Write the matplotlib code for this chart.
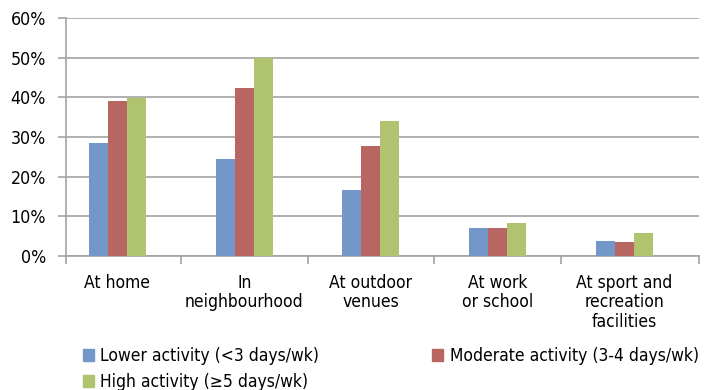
import matplotlib
matplotlib.use("Agg")
import matplotlib.pyplot as plt
import numpy as np
from matplotlib.patches import Patch

plt.rcParams["font.family"] = ["DejaVu Sans"]
plt.rcParams["font.stretch"] = "condensed"

categories = ["At home", "In\nneighbourhood", "At outdoor\nvenues", "At work\nor school",
              "At sport and\nrecreation\nfacilities"]
series_names = ["Lower activity (<3 days/wk)", "Moderate activity (3-4 days/wk)",
                "High activity (\u22655 days/wk)"]
lower = [28.5, 24.4, 16.6, 7.1, 3.8]
moderate = [39.1, 42.3, 27.7, 7.1, 3.5]
high = [39.9, 50.0, 34.0, 8.3, 5.8]
y_ticks = [0, 10, 20, 30, 40, 50, 60]
y_tick_labels = ["0%", "10%", "20%", "30%", "40%", "50%", "60%"]

colors = ["#7397C9", "#B86662", "#B0C36F"]
grid_col = "#A3A3A3"
fs = 12.5

fig = plt.figure(figsize=(7.13, 3.90), dpi=100)
ax = fig.add_axes([66 / 713, 134 / 390, 633 / 713, 238 / 390])

x = np.arange(len(categories))
w = 0.15
for i, vals in enumerate([lower, moderate, high]):
    ax.bar(x + (i - 1) * w, vals, width=w, color=colors[i], zorder=3)

x_left, x_right = -0.406, len(categories) - 0.412
ax.set_xlim(x_left, x_right)
ax.set_ylim(0, 60)
ax.set_yticks(y_ticks)
ax.set_yticklabels(y_tick_labels, fontsize=12.8)
ax.yaxis.grid(True, color=grid_col, linewidth=1.2, zorder=0)
ax.set_axisbelow(True)

ax.set_xticks(x)
ax.set_xticklabels(categories, fontsize=fs, linespacing=1.1, va="top")
ax.tick_params(axis="x", which="major", length=0, pad=13)
ax.set_xticks([x_left] + list(x[:-1] + 0.5) + [x_right], minor=True)
ax.tick_params(axis="x", which="minor", length=6, color=grid_col, width=1.2)
ax.tick_params(axis="y", length=6, color=grid_col, width=1.2, pad=8.5)

for s in ["top", "right"]:
    ax.spines[s].set_visible(False)
for s in ["left", "bottom"]:
    ax.spines[s].set_color(grid_col)
    ax.spines[s].set_linewidth(1.2)

handles = [Patch(color=colors[0], label=series_names[0]),
           Patch(color=colors[2], label=series_names[2]),
           Patch(color=colors[1], label=series_names[1])]
fig.legend(handles=handles, ncol=2, loc="upper left", bbox_to_anchor=(83 / 713, 1 - 347 / 390),
           frameon=False, fontsize=fs, handlelength=0.65, handleheight=0.65,
           handletextpad=0.35, columnspacing=6.5, labelspacing=0.45, borderpad=0,
           borderaxespad=0)

fig.savefig("out.png", dpi=100)
